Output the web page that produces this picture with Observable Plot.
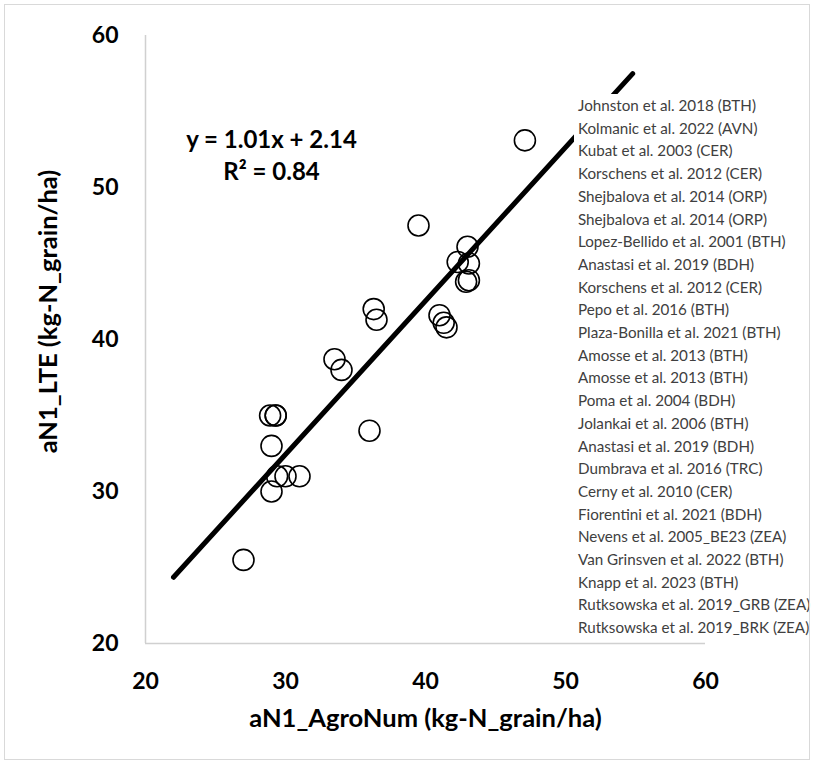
<!DOCTYPE html>
<html>
<head>
<meta charset="utf-8">
<script src="https://cdn.jsdelivr.net/npm/d3@7"></script>
<script src="https://cdn.jsdelivr.net/npm/@observablehq/plot@0.6"></script>
<style>
  html, body { margin: 0; padding: 0; background: #fff; }
  #wrap { position: relative; width: 814px; height: 765px; overflow: hidden; }
  #frame { position: absolute; left: 4px; top: 4px; width: 806px; height: 756px; border: 1px solid #d9d9d9; box-sizing: border-box; pointer-events: none; }
  #chart { position: absolute; left: 0; top: 0; }
  #legend { position: absolute; left: 574px; top: 94px; width: 238px; background: #fff;
            padding-left: 4px; font-family: Lato, "Open Sans", sans-serif; font-size: 15.2px;
            line-height: 22.7px; color: #404040; white-space: nowrap; }
</style>
</head>
<body>
<div id="wrap">
  <div id="chart"></div>
  <div id="legend"></div>
  <div id="frame"></div>
</div>
<script>
// Data
const agroNum = [27.0, 29.0, 29.0, 28.9, 29.3, 29.4, 30.0, 31.0, 36.0, 33.5, 34.0, 36.3,
                 36.5, 39.5, 47.1, 43.0, 42.3, 43.1, 42.9, 43.1, 41.0, 41.3, 41.5, 29.3];
const lte    = [25.5, 30.0, 33.0, 35.0, 35.0, 31.0, 31.0, 31.0, 34.0, 38.7, 38.0, 42.0,
                 41.3, 47.5, 53.1, 46.1, 45.1, 45.0, 43.8, 43.9, 41.6, 41.1, 40.8, 35.0];
const studies = [
  "Johnston et al. 2018 (BTH)", "Kolmanic et al. 2022 (AVN)", "Kubat et al. 2003 (CER)",
  "Korschens et al. 2012 (CER)", "Shejbalova et al. 2014 (ORP)", "Shejbalova et al. 2014 (ORP)",
  "Lopez-Bellido et al. 2001 (BTH)", "Anastasi et al. 2019 (BDH)", "Korschens et al. 2012 (CER)",
  "Pepo et al. 2016 (BTH)", "Plaza-Bonilla et al. 2021 (BTH)", "Amosse et al. 2013 (BTH)",
  "Amosse et al. 2013 (BTH)", "Poma et al. 2004 (BDH)", "Jolankai et al. 2006 (BTH)",
  "Anastasi et al. 2019 (BDH)", "Dumbrava et al. 2016 (TRC)", "Cerny et al. 2010 (CER)",
  "Fiorentini et al. 2021 (BDH)", "Nevens et al. 2005_BE23 (ZEA)", "Van Grinsven et al. 2022 (BTH)",
  "Knapp et al. 2023 (BTH)", "Rutksowska et al. 2019_GRB (ZEA)", "Rutksowska et al. 2019_BRK (ZEA)"
];
const xTicks = [20, 30, 40, 50, 60];
const yTicks = [20, 30, 40, 50, 60];
const slope = 1.01;
const intercept = 2.14;
const trendRange = [22, 54.8];
const equationLines = ["y = 1.01x + 2.14", "R² = 0.84"];
const xTitle = "aN1_AgroNum (kg-N_grain/ha)";
const yTitle = "aN1_LTE (kg-N_grain/ha)";

const points = agroNum.map((x, i) => ({x, y: lte[i], study: studies[i]}));
const trend = trendRange.map(x => ({x, y: slope * x + intercept}));

const chart = Plot.plot({
  width: 814,
  height: 765,
  marginLeft: 145,
  marginRight: 109,
  marginTop: 35,
  marginBottom: 122,
  style: {fontFamily: "Lato, 'Open Sans', sans-serif", background: "transparent", color: "#000"},
  x: {domain: [20, 60]},
  y: {domain: [20, 60]},
  marks: [
    Plot.axisX({ticks: xTicks, tickSize: 0, tickPadding: 29, fontSize: 23, fontWeight: "bold", label: null}),
    Plot.axisY({ticks: yTicks, tickSize: 0, tickPadding: 27, fontSize: 23, fontWeight: "bold", label: null}),
    Plot.ruleX([20], {stroke: "#d0d0d0", strokeWidth: 1.5}),
    Plot.ruleY([20], {stroke: "#d0d0d0", strokeWidth: 1.5}),
    Plot.dot(points, {x: "x", y: "y", r: 10.5, stroke: "#000", strokeWidth: 1.6, fill: "none"}),
    Plot.line(trend, {x: "x", y: "y", stroke: "#000", strokeWidth: 5, strokeLinecap: "round"}),
    Plot.text([equationLines[0]], {frameAnchor: "top-left", dx: 126, dy: 105, lineAnchor: "middle", textAnchor: "middle", fontSize: 24, fontWeight: "bold"}),
    Plot.text([equationLines[1]], {frameAnchor: "top-left", dx: 126, dy: 137, lineAnchor: "middle", textAnchor: "middle", fontSize: 24, fontWeight: "bold"}),
    Plot.text([xTitle], {frameAnchor: "bottom", dy: 75, lineAnchor: "middle", textAnchor: "middle", fontSize: 25.5, fontWeight: "bold"}),
    Plot.text([yTitle], {frameAnchor: "left", dx: -97, dy: -28, lineAnchor: "middle", textAnchor: "middle", rotate: -90, fontSize: 25.5, fontWeight: "bold"})
  ]
});
document.getElementById("chart").appendChild(chart);

const legend = d3.select("#legend");
legend.selectAll("div").data(studies).join("div").text(d => d);
</script>
</body>
</html>
